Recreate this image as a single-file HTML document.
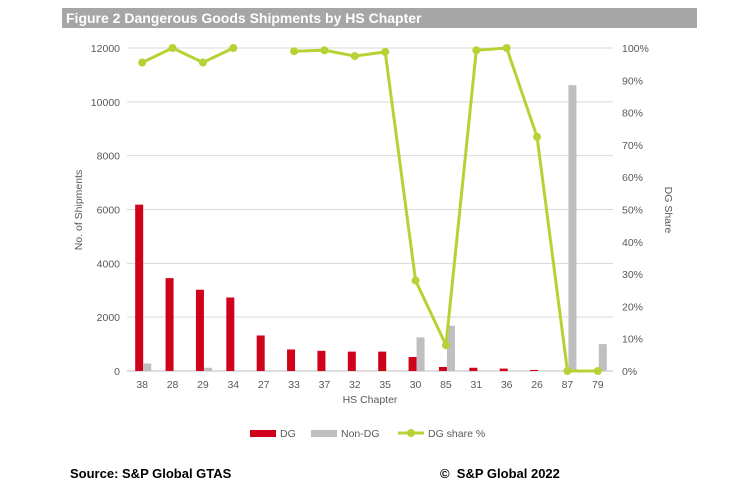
<!DOCTYPE html>
<html><head><meta charset="utf-8"><style>
body{margin:0;background:#fff;font-family:"Liberation Sans",Arial,sans-serif}
#wrap{position:relative;width:746px;height:502px;overflow:hidden}
#title{position:absolute;left:62px;top:8px;width:635px;height:20px;background:#a6a6a6;color:#fff;font-weight:bold;font-size:14px;line-height:20px;padding-left:4px;box-sizing:border-box}
.foot{position:absolute;top:466px;font-weight:bold;font-size:13px;color:#000}
</style></head><body>
<div id="wrap">
<div id="title">Figure 2 Dangerous Goods Shipments by HS Chapter</div>
<svg id="chart" width="746" height="502" style="position:absolute;left:0;top:0"></svg>
<div class="foot" style="left:70px">Source: S&amp;P Global GTAS</div>
<div class="foot" style="left:440px">©&nbsp; S&amp;P Global 2022</div>
</div>
<script>
const categories=["38","28","29","34","27","33","37","32","35","30","85","31","36","26","87","79"];
const dgValues=[6180,3450,3020,2730,1320,800,750,720,720,520,150,120,90,40,0,0];
const nonDgValues=[280,0,120,0,0,0,0,0,0,1250,1680,0,0,0,10620,1000];
const dgShare=[95.5,100,95.5,100,null,99,99.3,97.5,98.8,28,8,99.3,100,72.5,0,0];
const leftTicks=[0,2000,4000,6000,8000,10000,12000];
const rightTicks=[0,10,20,30,40,50,60,70,80,90,100];
const NS="http://www.w3.org/2000/svg";
const svg=document.getElementById('chart');
const X0=127,X1=613,Y0=371,Y1=48;
const FS=10.5;
const band=(X1-X0)/categories.length;
const xc=i=>X0+band*(i+0.5);
const yL=v=>Y0-(v/12000)*(Y0-Y1);
const yR=v=>Y0-(v/100)*(Y0-Y1);
function el(t,a,txt){const e=document.createElementNS(NS,t);for(const k in a)e.setAttribute(k,a[k]);if(txt!=null)e.textContent=txt;svg.appendChild(e);return e;}
leftTicks.forEach(v=>{
 const g=el('line',{x1:X0,x2:X1,y1:yL(v),y2:yL(v),stroke:v===0?'#bfbfbf':'#d9d9d9','stroke-width':1});
 
 
 const t=el('text',{x:120,y:yL(v)+4,'text-anchor':'end','font-size':FS,fill:'#595959'},v);
 
 
});
rightTicks.forEach(v=>{
 const t=el('text',{x:622,y:yR(v)+4,'font-size':FS,fill:'#595959'},v+'%');
 
 
});
categories.forEach((c,i)=>{
 const t=el('text',{x:xc(i),y:388,'text-anchor':'middle','font-size':FS,fill:'#595959'},c);
 
 
 const b=el('rect',{x:xc(i)-7,y:yL(dgValues[i]),width:8,height:Y0-yL(dgValues[i]),fill:'#d0021b'});
 
 
 const n=el('rect',{x:xc(i)+1,y:yL(nonDgValues[i]),width:8,height:Y0-yL(nonDgValues[i]),fill:'#bfbfbf'});
 
 
});
let seg=[];
const segs=[];
dgShare.forEach((v,i)=>{if(v==null){if(seg.length)segs.push(seg);seg=[];}else seg.push([xc(i),yR(v)]);});
if(seg.length)segs.push(seg);
segs.forEach(s=>{
 const p=el('polyline',{points:s.map(p=>p.join(',')).join(' '),fill:'none',stroke:'#b5d334','stroke-width':3,'stroke-linejoin':'round'});
 
 
 s.forEach(pt=>{
  const c=el('circle',{cx:pt[0],cy:pt[1],r:4,fill:'#b5d334'});
  
  
 });
});
const yt=el('text',{x:0,y:0,'text-anchor':'middle','font-size':FS,fill:'#595959',transform:'translate(82,210) rotate(-90)'},'No. of Shipments');


const yr=el('text',{x:0,y:0,'text-anchor':'middle','font-size':FS,fill:'#595959',transform:'translate(665,210) rotate(90)'},'DG Share');


const xt=el('text',{x:370,y:403,'text-anchor':'middle','font-size':FS,fill:'#595959'},'HS Chapter');


const l1=el('rect',{x:250,y:430,width:26,height:7,fill:'#d0021b'});


const l1t=el('text',{x:280,y:437,'font-size':FS,fill:'#595959'},'DG');


const l2=el('rect',{x:311,y:430,width:26,height:7,fill:'#bfbfbf'});


const l2t=el('text',{x:341,y:437,'font-size':FS,fill:'#595959'},'Non-DG');


const l3=el('line',{x1:398,x2:424,y1:433,y2:433,stroke:'#b5d334','stroke-width':3});


const l3c=el('circle',{cx:411,cy:433,r:4,fill:'#b5d334'});


const l3t=el('text',{x:428,y:437,'font-size':FS,fill:'#595959'},'DG share %');


</script>
</body></html>
